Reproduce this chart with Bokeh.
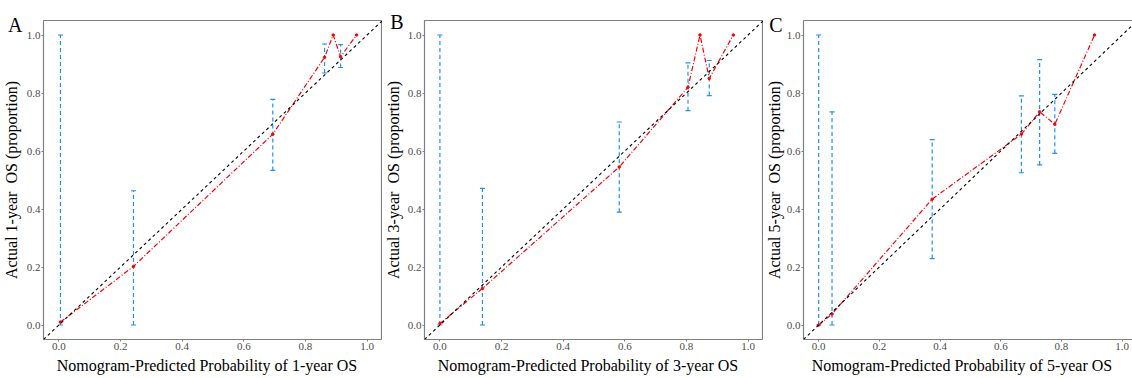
import numpy as np
from bokeh.plotting import figure
from bokeh.layouts import row
from bokeh.models import (FixedTicker, PrintfTickFormatter, Slope, LinearAxis, Range1d,
                          CustomJSTickFormatter)
from bokeh.embed import file_html
from bokeh.resources import INLINE

# ---------------- data ----------------
panel_letters = ["A", "B", "C"]
x_titles = ["Nomogram-Predicted Probability of 1-year OS",
            "Nomogram-Predicted Probability of 3-year OS",
            "Nomogram-Predicted Probability of 5-year OS"]
y_titles = ["Actual 1-year\u00a0\u00a0OS (proportion)",
            "Actual 3-year\u00a0\u00a0OS (proportion)",
            "Actual 5-year\u00a0\u00a0OS (proportion)"]
tick_values = [0.0, 0.2, 0.4, 0.6, 0.8, 1.0]

pred_a = [0.005, 0.242, 0.694, 0.862, 0.890, 0.914, 0.966]
obs_a = [0.010, 0.202, 0.658, 0.923, 1.000, 0.925, 1.000]
err_x_a = [0.005, 0.242, 0.694, 0.862, 0.914]
err_lo_a = [0.000, 0.000, 0.533, 0.869, 0.888]
err_hi_a = [1.000, 0.463, 0.778, 0.969, 0.967]

pred_b = [0.000, 0.138, 0.582, 0.805, 0.844, 0.874, 0.952]
obs_b = [0.005, 0.126, 0.545, 0.820, 1.000, 0.850, 1.000]
err_x_b = [0.000, 0.138, 0.582, 0.805, 0.874]
err_lo_b = [0.000, 0.000, 0.389, 0.739, 0.791]
err_hi_b = [1.000, 0.471, 0.700, 0.904, 0.912]

pred_c = [0.000, 0.044, 0.374, 0.668, 0.728, 0.778, 0.909]
obs_c = [0.000, 0.038, 0.434, 0.658, 0.735, 0.692, 1.000]
err_x_c = [0.000, 0.044, 0.374, 0.668, 0.728, 0.778]
err_lo_c = [0.000, 0.000, 0.229, 0.525, 0.552, 0.592]
err_hi_c = [1.000, 0.735, 0.639, 0.790, 0.915, 0.795]

panels = [
    (pred_a, obs_a, err_x_a, err_lo_a, err_hi_a),
    (pred_b, obs_b, err_x_b, err_lo_b, err_hi_b),
    (pred_c, obs_c, err_x_c, err_lo_c, err_hi_c),
]

# ---------------- layout settings ----------------
FONT = "Liberation Serif"
layout = [
    dict(width=382, left=40, top=17, bottom=37, x_end=1.05, outline=True,
         letter_y=1.035, label_standoff=-15),
    dict(width=381, left=39, top=20, bottom=39, x_end=1.05, outline=True,
         letter_y=1.045, label_standoff=-15),
    dict(width=369, left=34, top=17, bottom=38, x_end=1.034, outline=False,
         letter_y=1.034, label_standoff=-17),
]

FRAME_COL = "#808080"
TICK_COL = "#4d4d4d"


def style_ticks(ax):
    ax.ticker = FixedTicker(ticks=tick_values)
    ax.formatter = PrintfTickFormatter(format="%.1f")
    ax.major_label_text_font = FONT
    ax.major_label_text_font_size = "11px"
    ax.major_label_text_color = TICK_COL
    ax.major_label_standoff = 1
    ax.major_tick_in = 0
    ax.major_tick_out = 2
    ax.major_tick_line_color = FRAME_COL
    ax.minor_tick_line_color = None
    ax.axis_line_color = FRAME_COL


def style_title(ax, title, standoff):
    ax.axis_label = title
    ax.axis_label_text_font = FONT
    ax.axis_label_text_font_size = "16px"
    ax.axis_label_text_font_style = "normal"
    ax.axis_label_text_color = "black"
    ax.axis_label_standoff = standoff


figs = []
for i, (pred, obs, ex, elo, ehi) in enumerate(panels):
    L = layout[i]
    p = figure(width=L["width"], height=378, output_backend="svg", toolbar_location=None,
               x_range=Range1d(-0.05, L["x_end"]), y_range=Range1d(-0.05, 1.05),
               min_border_left=L["left"], min_border_right=0,
               min_border_top=L["top"], min_border_bottom=L["bottom"],
               background_fill_color="white", border_fill_color="white")
    p.xgrid.visible = False
    p.ygrid.visible = False
    style_ticks(p.xaxis[0])
    style_title(p.xaxis[0], x_titles[i] + "\u00a0\u00a0\u00a0", 4)
    style_ticks(p.yaxis[0])

    # outer left axis: panel letter as a single tick label + the y title
    letter_ax = LinearAxis(ticker=FixedTicker(ticks=[L["letter_y"]]),
                           formatter=CustomJSTickFormatter(args=dict(t=panel_letters[i]),
                                                           code="return t"),
                           major_tick_line_color=None, minor_tick_line_color=None,
                           major_tick_in=0, major_tick_out=0, axis_line_color=None,
                           major_label_standoff=1, major_label_text_font=FONT,
                           major_label_text_font_size="20px",
                           major_label_text_color="black")
    style_title(letter_ax, y_titles[i], L["label_standoff"])
    p.add_layout(letter_ax, "left")

    if L["outline"]:
        p.outline_line_color = FRAME_COL
        p.outline_line_width = 1.2
        p.xaxis[0].axis_line_color = None
        p.yaxis[0].axis_line_color = None
    else:
        p.outline_line_color = None
        top_ax = LinearAxis(ticker=FixedTicker(ticks=[]), major_tick_line_color=None,
                            minor_tick_line_color=None, axis_line_color=FRAME_COL,
                            axis_line_width=1.2)
        p.add_layout(top_ax, "above")
        p.xaxis[0].axis_line_width = 1.2
        p.yaxis[0].axis_line_width = 1.2

    # ideal diagonal
    p.add_layout(Slope(gradient=1, y_intercept=0, line_color="black",
                       line_dash="3 3", line_width=1.1))

    # error bars
    p.segment(x0=ex, y0=elo, x1=ex, y1=ehi, line_color="#1E90FF",
              line_dash="4 3", line_width=1.2)
    p.scatter(x=ex, y=elo, marker="dash", size=5, line_color="#1E90FF", line_width=1.2)
    p.scatter(x=ex, y=ehi, marker="dash", size=5, line_color="#1E90FF", line_width=1.2)

    # calibration line
    p.line(x=pred, y=obs, line_color="#FF0000", line_dash="5 2 1 2", line_width=1.2)
    p.scatter(x=pred, y=obs, marker="circle", size=2.5, fill_color="#FF0000",
              line_color="#FF0000")
    figs.append(p)

layout_row = row(*figs, spacing=0)
open("out.html", "w").write(file_html(layout_row, INLINE))
